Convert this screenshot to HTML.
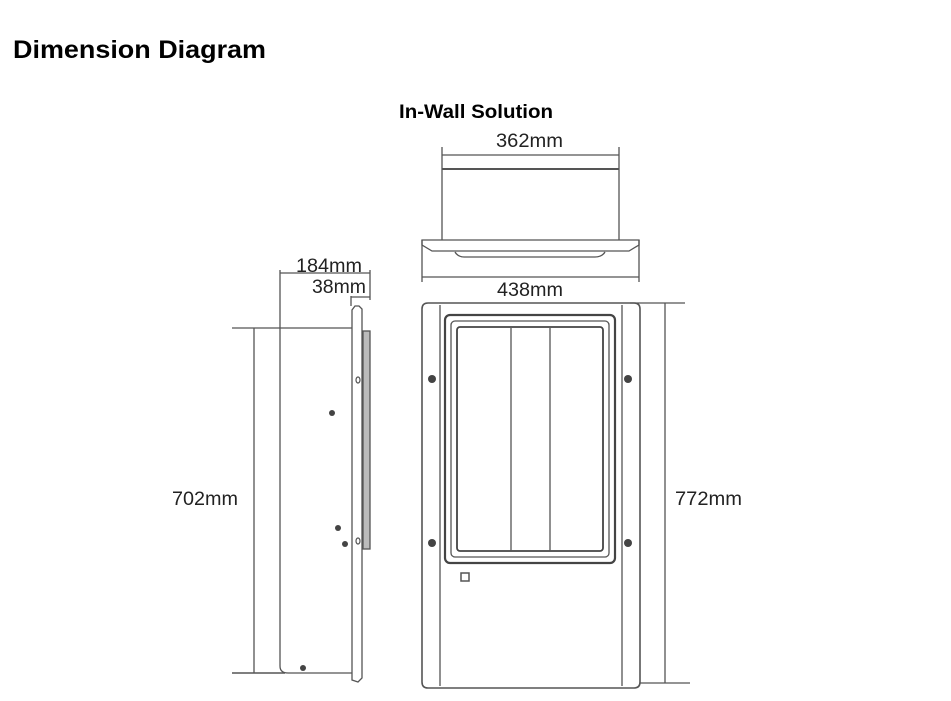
<!DOCTYPE html>
<html><head><style>
body{margin:0;background:#fff;width:951px;height:701px;overflow:hidden}
svg{display:block}
.t{font-family:"Liberation Sans",Arial,sans-serif;fill:#222}
</style></head><body>
<svg width="951" height="701" viewBox="0 0 951 701" xmlns="http://www.w3.org/2000/svg">
<text x="13" y="58" class="t" textLength="253" lengthAdjust="spacingAndGlyphs" style="font-weight:bold;font-size:25px;fill:#000">Dimension Diagram</text>
<text x="399" y="118" class="t" textLength="154" lengthAdjust="spacingAndGlyphs" style="font-weight:bold;font-size:19px;fill:#000">In-Wall Solution</text>
<g class="t" style="font-size:19px">
<text x="496" y="147" textLength="67" lengthAdjust="spacingAndGlyphs">362mm</text>
<text x="497" y="296" textLength="66" lengthAdjust="spacingAndGlyphs">438mm</text>
<text x="296" y="272" textLength="66" lengthAdjust="spacingAndGlyphs">184mm</text>
<text x="312" y="293" textLength="54" lengthAdjust="spacingAndGlyphs">38mm</text>
<text x="172" y="505" textLength="66" lengthAdjust="spacingAndGlyphs">702mm</text>
<text x="675" y="505" textLength="67" lengthAdjust="spacingAndGlyphs">772mm</text>
</g>
<g fill="none" stroke="#555" stroke-width="1.3">
<line x1="442" y1="147" x2="442" y2="240"/>
<line x1="619" y1="147" x2="619" y2="240"/>
<line x1="442" y1="155" x2="619" y2="155"/>
<line x1="442" y1="169" x2="619" y2="169" stroke-width="2"/>
<path d="M422 240 H639 V245 L629 251 H432 L422 245 Z"/>
<path d="M455 252 Q458 257 464 257 H595 Q602 257 605 252"/>
<line x1="422" y1="240" x2="422" y2="282"/>
<line x1="639" y1="240" x2="639" y2="282"/>
<line x1="422" y1="277" x2="639" y2="277"/>
<path d="M428 303 H634 Q640 303 640 309 V682 Q640 688 634 688 H428 Q422 688 422 682 V309 Q422 303 428 303 Z" stroke-width="1.6"/>
<line x1="440" y1="305" x2="440" y2="686"/>
<line x1="622" y1="305" x2="622" y2="686"/>
<rect x="445" y="315" width="170" height="248" rx="5" stroke-width="2.2" stroke="#444"/>
<rect x="451" y="321" width="158" height="236" rx="4"/>
<rect x="457" y="327" width="146" height="224" rx="3" stroke-width="1.8" stroke="#444"/>
<line x1="511" y1="328" x2="511" y2="551"/>
<line x1="550" y1="328" x2="550" y2="551"/>
<rect x="461" y="573" width="8" height="8" stroke-width="1.5"/>
<line x1="630" y1="303" x2="685" y2="303"/>
<line x1="665" y1="303" x2="665" y2="683"/>
<line x1="640" y1="683" x2="690" y2="683"/>
<line x1="232" y1="328" x2="352" y2="328"/>
<line x1="254" y1="328" x2="254" y2="673"/>
<line x1="232" y1="673" x2="285" y2="673" stroke-width="1.6"/>
<path d="M280 270 V666 Q280 673 288 673 H352"/>
<line x1="280" y1="273" x2="370" y2="273"/>
<line x1="370" y1="270" x2="370" y2="300"/>
<line x1="351" y1="296" x2="351" y2="306"/>
<line x1="351" y1="297" x2="370" y2="297"/>
<path d="M352 680 V310 L355 306 H359 L362 309 V678 L358 682 Z"/>
<rect x="363" y="331" width="7" height="218" fill="#bbb" stroke="#555"/>
</g>
<g fill="#444">
<circle cx="432" cy="379" r="4"/><circle cx="628" cy="379" r="4"/>
<circle cx="432" cy="543" r="4"/><circle cx="628" cy="543" r="4"/>
<circle cx="332" cy="413" r="3"/><circle cx="338" cy="528" r="3"/>
<circle cx="345" cy="544" r="3"/><circle cx="303" cy="668" r="3"/>
</g>
<g fill="none" stroke="#555" stroke-width="1.2">
<ellipse cx="358" cy="380" rx="2" ry="3"/><ellipse cx="358" cy="541" rx="2" ry="3"/>
</g>
</svg>
</body></html>
